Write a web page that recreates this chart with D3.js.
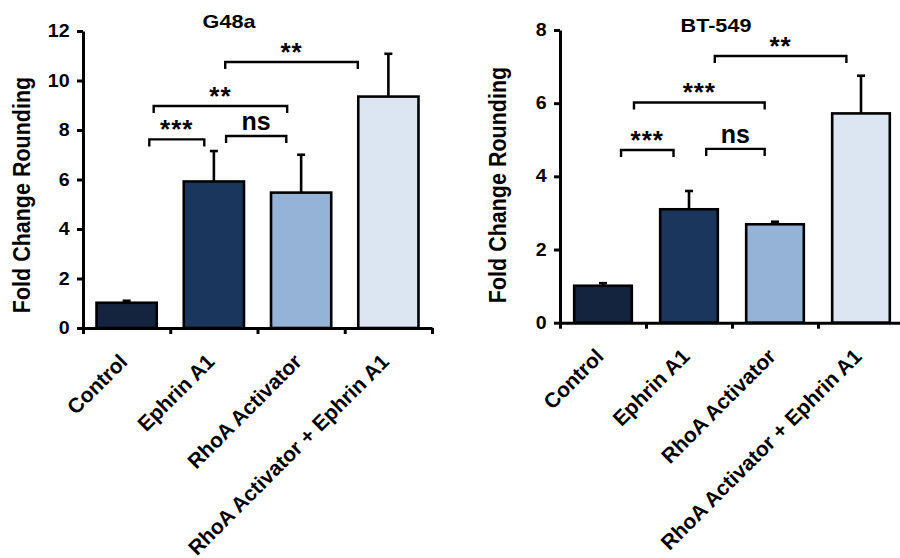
<!DOCTYPE html>
<html>
<head>
<meta charset="utf-8">
<script src="https://cdn.jsdelivr.net/npm/d3@7"></script>
<style>
  body { margin: 0; background: #fff; }
  svg { font-family: "Liberation Sans", Arial, sans-serif; font-weight: bold; }
</style>
</head>
<body>
<svg id="chart" width="900" height="558"></svg>
<script>
const categories = ["Control", "Ephrin A1", "RhoA Activator", "RhoA Activator + Ephrin A1"];
const barColors = ["#14243f", "#1b365d", "#95b3d7", "#dce6f2"];

const g48aMeans = [1.02, 5.92, 5.47, 9.35];
const g48aErrors = [0.08, 1.23, 1.53, 1.73];
const g48aTicks = [0, 2, 4, 6, 8, 10, 12];
// from/to in category units (0 = centre of first bar), level in y units
const g48aBrackets = [
  { from: 0.26, to: 0.89, level: 7.62, label: "***" },
  { from: 1.14, to: 1.83, level: 7.76, label: "ns" },
  { from: 0.31, to: 1.84, level: 8.97, label: "**" },
  { from: 1.13, to: 2.65, level: 10.75, label: "**" }
];

const bt549Means = [1.01, 3.10, 2.69, 5.72];
const bt549Errors = [0.07, 0.50, 0.07, 1.03];
const bt549Ticks = [0, 2, 4, 6, 8];
const bt549Brackets = [
  { from: 0.21, to: 0.82, level: 4.72, label: "***" },
  { from: 1.20, to: 1.88, level: 4.75, label: "ns" },
  { from: 0.36, to: 1.88, level: 6.02, label: "***" },
  { from: 1.30, to: 2.83, level: 7.29, label: "**" }
];

const svg = d3.select("#chart");
const color = d3.scaleOrdinal().domain(categories).range(barColors);

function drawPanel(p) {
  const g = svg.append("g");
  const y = d3.scaleLinear().domain([0, d3.max(p.ticks)]).range([p.bottom, p.top]);
  const x = d3.scaleBand().domain(categories).range([p.left, p.right])
    .paddingInner(p.pad).paddingOuter(p.pad / 2);
  const pos = d3.scaleLinear().domain([-0.5, categories.length - 0.5]).range([p.left, p.right]);
  const data = categories.map((c, i) => ({ cat: c, mean: p.means[i], err: p.errors[i] }));
  const mid = d => x(d.cat) + x.bandwidth() / 2;

  // error bars (upper only)
  const eb = g.append("g").attr("stroke", "#000").attr("stroke-width", 2.6);
  eb.selectAll("line.v").data(data).join("line").attr("class", "v")
    .attr("x1", mid).attr("x2", mid)
    .attr("y1", d => y(d.mean)).attr("y2", d => y(d.mean + d.err));
  eb.selectAll("line.c").data(data).join("line").attr("class", "c")
    .attr("x1", d => mid(d) - 4).attr("x2", d => mid(d) + 4)
    .attr("y1", d => y(d.mean + d.err)).attr("y2", d => y(d.mean + d.err));

  // bars
  g.append("g").selectAll("rect").data(data).join("rect")
    .attr("x", d => x(d.cat)).attr("width", x.bandwidth())
    .attr("y", d => y(d.mean)).attr("height", d => y(0) - y(d.mean))
    .attr("fill", d => color(d.cat)).attr("stroke", "#000").attr("stroke-width", 2.6);

  // y axis
  const ya = g.append("g").attr("transform", `translate(${p.left},0)`)
    .call(d3.axisLeft(y).tickValues(p.ticks).tickSize(6).tickSizeOuter(0).tickPadding(6));
  ya.select(".domain").attr("stroke-width", 3);
  ya.selectAll(".tick line").attr("stroke-width", 3);
  ya.selectAll("text").attr("font-size", 17.5).attr("fill", "#000")
    .attr("transform", "scale(1.12,1)");

  // x axis: boundary ticks
  const xa = g.append("g").attr("transform", `translate(0,${p.bottom})`)
    .call(d3.axisBottom(pos).tickValues(d3.range(-0.5, categories.length, 1)).tickFormat("").tickSize(6).tickSizeOuter(0));
  xa.select(".domain").attr("stroke-width", 3);
  xa.selectAll(".tick line").attr("stroke-width", 3);

  // category labels
  const xl = g.append("g").attr("transform", `translate(0,${p.bottom})`)
    .call(d3.axisBottom(x).tickSize(0));
  xl.select(".domain").remove();
  xl.selectAll("text")
    .attr("font-size", 21).attr("fill", "#000")
    .attr("text-anchor", "end")
    .attr("dy", 0).attr("y", 0)
    .attr("transform", "translate(2,35) rotate(-45)");

  // significance brackets
  const br = g.append("g");
  p.brackets.forEach(b => {
    const x1 = pos(b.from), x2 = pos(b.to), yy = y(b.level);
    br.append("path")
      .attr("d", `M${x1},${yy + 7}V${yy}H${x2}V${yy + 7}`)
      .attr("fill", "none").attr("stroke", "#000").attr("stroke-width", 2.4);
    const ns = b.label === "ns";
    br.append("text")
      .attr("x", (x1 + x2) / 2)
      .attr("y", ns ? yy - 6 : yy - 1)
      .attr("text-anchor", "middle")
      .attr("font-size", ns ? 25 : 26)
      .attr("letter-spacing", ns ? 0 : 1)
      .text(b.label);
  });

  // title
  g.append("text")
    .attr("transform", `translate(${p.titleX},${p.titleY}) scale(1.2,1)`)
    .attr("text-anchor", "middle").attr("font-size", 18).text(p.title);

  // y label
  g.append("text")
    .attr("transform", `translate(${p.labelX},${p.labelY}) scale(1.12,1) rotate(-90)`)
    .attr("text-anchor", "middle").attr("font-size", 21.5)
    .text("Fold Change Rounding");
}

drawPanel({
  means: g48aMeans, errors: g48aErrors, ticks: g48aTicks, brackets: g48aBrackets,
  left: 83, right: 432, top: 31, bottom: 328, pad: 0.31,
  title: "G48a", titleX: 229, titleY: 28, labelX: 30, labelY: 195
});

drawPanel({
  means: bt549Means, errors: bt549Errors, ticks: bt549Ticks, brackets: bt549Brackets,
  left: 560, right: 904, top: 30, bottom: 322.7, pad: 0.33,
  title: "BT-549", titleX: 716, titleY: 32, labelX: 506, labelY: 185
});
</script>
</body>
</html>
